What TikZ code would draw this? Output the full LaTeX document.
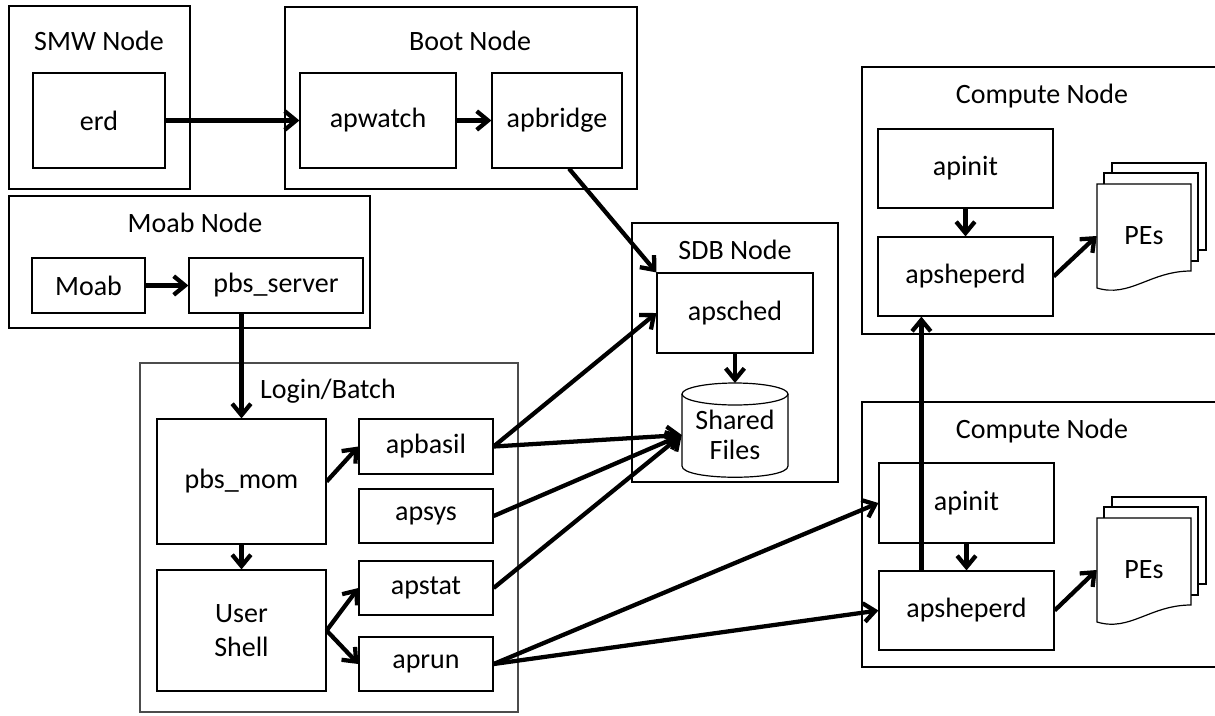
\documentclass[tikz,border=0pt]{standalone}
\usepackage{fontspec}
\setmainfont{Carlito}
\usetikzlibrary{arrows.meta,calc}

\begin{document}
\begin{tikzpicture}[x=0.75pt,y=0.75pt,yscale=-1,xscale=1,
    font=\fontsize{21}{25}\selectfont,
    wd/.style={minimum width=#1*0.75pt},
    ht/.style={minimum height=#1*0.75pt},
    grp/.style={draw, line width=0.9pt, inner sep=0pt},
    proc/.style={draw, line width=0.9pt, inner sep=0pt, align=center},
    ttl/.style={anchor=base, inner sep=0pt},
    sheet/.style={draw, line width=0.9pt, fill=white},
    flow/.style={line width=3.2pt, -{Straight Barb[length=8.5pt,width=14pt]}}]
\useasboundingbox (0,0) rectangle (1215,715);

%SMW node
\node[grp, wd=181, ht=183] (smw) at (99.5,97.5) {};
\node[ttl] (smw-t) at (99,50) {SMW Node};
\node[proc, wd=132, ht=95] (erd) at (99,120.5) {erd};

%Boot node
\node[grp, wd=352, ht=182] (boot) at (461,98) {};
\node[ttl] (boot-t) at (470,50) {Boot Node};
\node[proc, wd=156, ht=95] (apwatch) at (378,120.5) {apwatch};
\node[proc, wd=130, ht=95] (apbridge) at (557,120.5) {apbridge};

%Moab node
\node[grp, wd=361, ht=132] (moabnode) at (189.5,262) {};
\node[ttl] (moab-t) at (195,232) {Moab Node};
\node[proc, wd=113, ht=55] (moab) at (88.5,285.5) {Moab};
\node[proc, wd=174, ht=55] (pbs-server) at (276,285.5) {pbs\_server};

%Login/Batch
\node[grp, draw=black!70, wd=378, ht=349] (login) at (329,537.5) {};
\node[ttl] (login-t) at (328,398) {Login/Batch};
\node[proc, wd=169, ht=125] (pbs-mom) at (241.5,481.5) {pbs\_mom};
\node[proc, wd=169, ht=121] (shell) at (241.5,630.5) {User\\Shell};
\node[proc, wd=134, ht=55] (apbasil) at (426,446.5) {apbasil};
\node[proc, wd=134, ht=54] (apsys) at (426,516) {apsys};
\node[proc, wd=134, ht=54] (apstat) at (426,588) {apstat};
\node[proc, wd=134, ht=54] (aprun) at (426,664) {aprun};

%SDB node
\node[grp, wd=206, ht=259] (sdb) at (735,352.5) {};
\node[ttl] (sdb-t) at (735,259) {SDB Node};
\node[proc, wd=156, ht=80] (apsched) at (735,313) {apsched};
%Shape: Cylinder
\draw[sheet] (682,394) -- (682,466) .. controls (682,481) and (788,481) .. (788,466) -- (788,394) ;
\draw[sheet] (735,394) ellipse [x radius=53, y radius=11];
\node[inner sep=0pt, align=center, font=\fontsize{21}{22}\selectfont, wd=106, ht=94] (shared) at (735,435) {Shared\\Files};

%Compute node, upper
\node[grp, wd=363, ht=267] (cmp-up) at (1043.5,200.5) {};
\node[ttl] (cmp-up-t) at (1042,103) {Compute Node};
\node[proc, wd=175, ht=79] (apinit-up) at (965.5,168.5) {apinit};
\node[proc, wd=175, ht=79] (apsh-up) at (965.5,276.5) {apsheperd};
\draw[sheet] (1112,163) rectangle (1206,250);
\draw[sheet] (1104,173) rectangle (1198,261);
\draw[sheet] (1097,184) -- (1191,184) -- (1191,271) .. controls (1150,271) and (1130,298) .. (1097,288) -- cycle ;
\node[inner sep=0pt, wd=94, ht=104] (pe-up) at (1144,236) {PEs};

%Compute node, lower
\node[grp, wd=363, ht=265] (cmp-lo) at (1043.5,534.5) {};
\node[ttl] (cmp-lo-t) at (1042,438) {Compute Node};
\node[proc, wd=175, ht=80] (apinit-lo) at (966.5,503) {apinit};
\node[proc, wd=175, ht=79] (apsh-lo) at (966.5,610.5) {apsheperd};
\draw[sheet] (1112,497) rectangle (1206,584);
\draw[sheet] (1104,507) rectangle (1198,595);
\draw[sheet] (1097,518) -- (1191,518) -- (1191,605) .. controls (1150,605) and (1130,632) .. (1097,622) -- cycle ;
\node[inner sep=0pt, wd=94, ht=104] (pe-lo) at (1144,570) {PEs};

%Connectors
\draw[flow] (erd.east) -- (apwatch.west);
\draw[flow] (apwatch.east) -- (apbridge.west);
\draw[flow] (moab.east) -- (pbs-server.west);
\draw[flow] (pbs-server.south -| pbs-mom.north) -- (pbs-mom.north);
\draw[flow] (pbs-mom) -- (shell);
\draw[flow] (pbs-mom.east) -- (apbasil.west);
\draw[flow] (shell.east) -- (apstat.west);
\draw[flow] (shell.east) -- (aprun.west);
\draw[flow] ($(apbridge.south)+(12,0)$) -- (apsched.north west);
\draw[flow] (apbasil.east) -- (apsched.west);
\draw[flow] (apbasil.east) -- (shared.west);
\draw[flow] (apsys.east) -- (shared.west);
\draw[flow] (apstat.east) -- (shared.west);
\draw[flow] (apsched) -- (735,383);
\draw[flow] (aprun.east) -- (apinit-lo.west);
\draw[flow] (aprun.east) -- (apsh-lo.west);
\draw[flow] (apinit-up) -- (apsh-up);
\draw[flow] (apinit-lo) -- (apsh-lo);
\draw[flow] (apsh-up.east) -- (pe-up.west);
\draw[flow] (apsh-lo.east) -- (pe-lo.west);
\draw[flow] ($(apsh-lo.north west)+(43,0)$) -- ($(apsh-up.south west)+(44,0)$);
\end{tikzpicture}
\end{document}
